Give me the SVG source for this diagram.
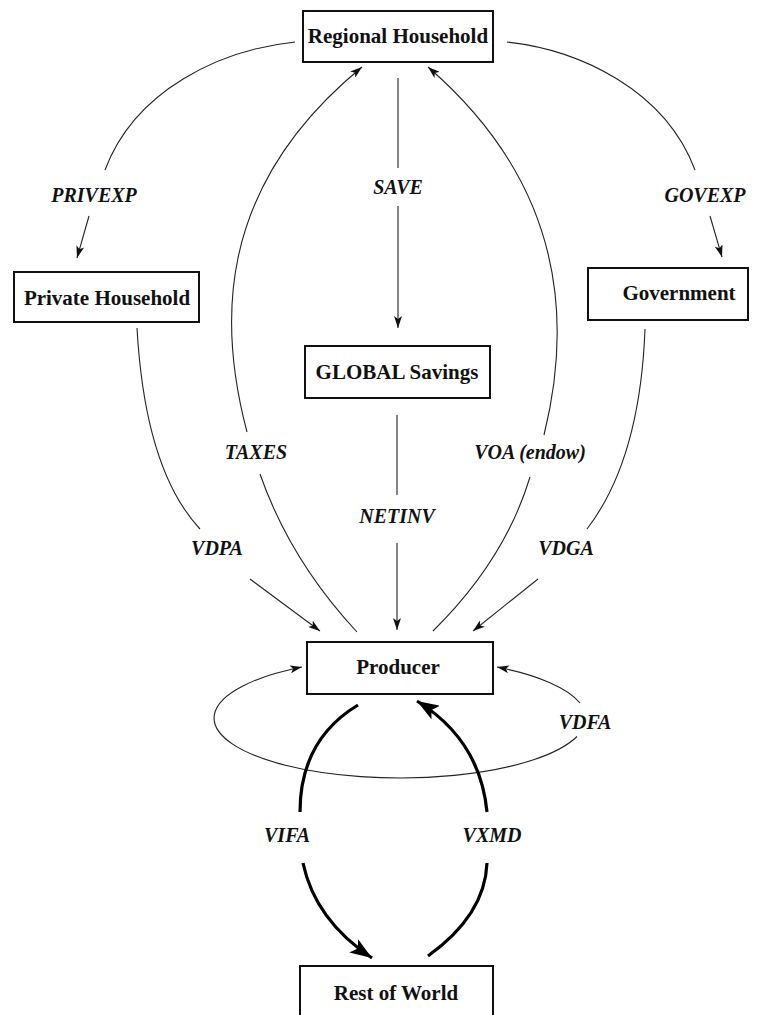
<svg xmlns="http://www.w3.org/2000/svg" width="764" height="1015" viewBox="0 0 764 1015">
<style>
.box{fill:#fff;stroke:#111;stroke-width:2}
.nt{font-family:"Liberation Serif","Times New Roman",serif;font-weight:bold;font-size:21px;fill:#111;text-anchor:middle}
.lb{font-family:"Liberation Serif","Times New Roman",serif;font-weight:bold;font-style:italic;font-size:20px;fill:#111;text-anchor:middle}
.th{fill:none;stroke:#222;stroke-width:1.1}
.tk{fill:none;stroke:#000;stroke-width:3.2}
</style>
<defs>
<marker id="a" viewBox="0 0 12 8" refX="12" refY="4" markerWidth="12" markerHeight="8" markerUnits="userSpaceOnUse" orient="auto"><path d="M0,0 L12,4 L0,8 L3,4 z" fill="#111"/></marker>
<marker id="b" viewBox="0 0 22 16" refX="22" refY="8" markerWidth="22" markerHeight="16" markerUnits="userSpaceOnUse" orient="auto"><path d="M0,0 L22,8 L0,16 L5,8 z" fill="#000"/></marker>
</defs>
<rect width="764" height="1015" fill="#fff"/>
<g id="connectors">
<path class="th" d="M295,42 C220,50 135,90 105,170"/>
<path class="th" d="M89,216 L77,258" marker-end="url(#a)"/>
<path class="th" d="M507,42 C580,50 665,90 695,170"/>
<path class="th" d="M710,216 L722,257" marker-end="url(#a)"/>
<path class="th" d="M398,78 L398,168"/>
<path class="th" d="M398,206 L398,328" marker-end="url(#a)"/>
<path class="th" d="M397,415 L397,495"/>
<path class="th" d="M397,543 L397,630" marker-end="url(#a)"/>
<path class="th" d="M357,632 Q290,560 260,474"/>
<path class="th" d="M247,432 C220,330 212,190 362,67" marker-end="url(#a)"/>
<path class="th" d="M433,631 Q505,560 530,477"/>
<path class="th" d="M544,435 C570,330 570,190 428,67" marker-end="url(#a)"/>
<path class="th" d="M137,328 Q145,470 200,529"/>
<path class="th" d="M250,579 L320,631" marker-end="url(#a)"/>
<path class="th" d="M645,329 Q640,460 587,529"/>
<path class="th" d="M538,579 L473,631" marker-end="url(#a)"/>
<path class="th" d="M577,736.5 A186,60 0 1 1 302,667" marker-end="url(#a)"/>
<path class="th" d="M580,703 A186,60 0 0 0 497,667" marker-end="url(#a)"/>
<path class="tk" d="M358,705 Q300,740 300,812"/>
<path class="tk" d="M303,863 Q315,920 372,958" marker-end="url(#b)"/>
<path class="tk" d="M428,956 Q485,915 487,863"/>
<path class="tk" d="M487,812 Q480,740 417,701" marker-end="url(#b)"/>
</g>
<g id="labels">
<text class="lb" x="94" y="202">PRIVEXP</text>
<text class="lb" x="705" y="202">GOVEXP</text>
<text class="lb" x="398" y="194">SAVE</text>
<text class="lb" x="256" y="459">TAXES</text>
<text class="lb" x="530" y="459">VOA (endow)</text>
<text class="lb" x="397" y="523">NETINV</text>
<text class="lb" x="217" y="555">VDPA</text>
<text class="lb" x="566" y="555">VDGA</text>
<text class="lb" x="585" y="729">VDFA</text>
<text class="lb" x="287" y="842">VIFA</text>
<text class="lb" x="492" y="842">VXMD</text>
</g>
<g id="regional-household"><rect class="box" x="303" y="11" width="190" height="51"/><text class="nt" x="398" y="43">Regional Household</text></g>
<g id="private-household"><rect class="box" x="14" y="272" width="185" height="50"/><text class="nt" x="107" y="305">Private Household</text></g>
<g id="government"><rect class="box" x="588" y="268" width="160" height="52"/><text class="nt" x="679" y="300">Government</text></g>
<g id="global-savings"><rect class="box" x="305" y="346" width="185" height="52"/><text class="nt" x="397" y="379">GLOBAL Savings</text></g>
<g id="producer"><rect class="box" x="307" y="642" width="186" height="52"/><text class="nt" x="398" y="674">Producer</text></g>
<g id="rest-of-world"><rect class="box" x="300" y="966" width="193" height="60"/><text class="nt" x="396" y="1000">Rest of World</text></g>
</svg>
